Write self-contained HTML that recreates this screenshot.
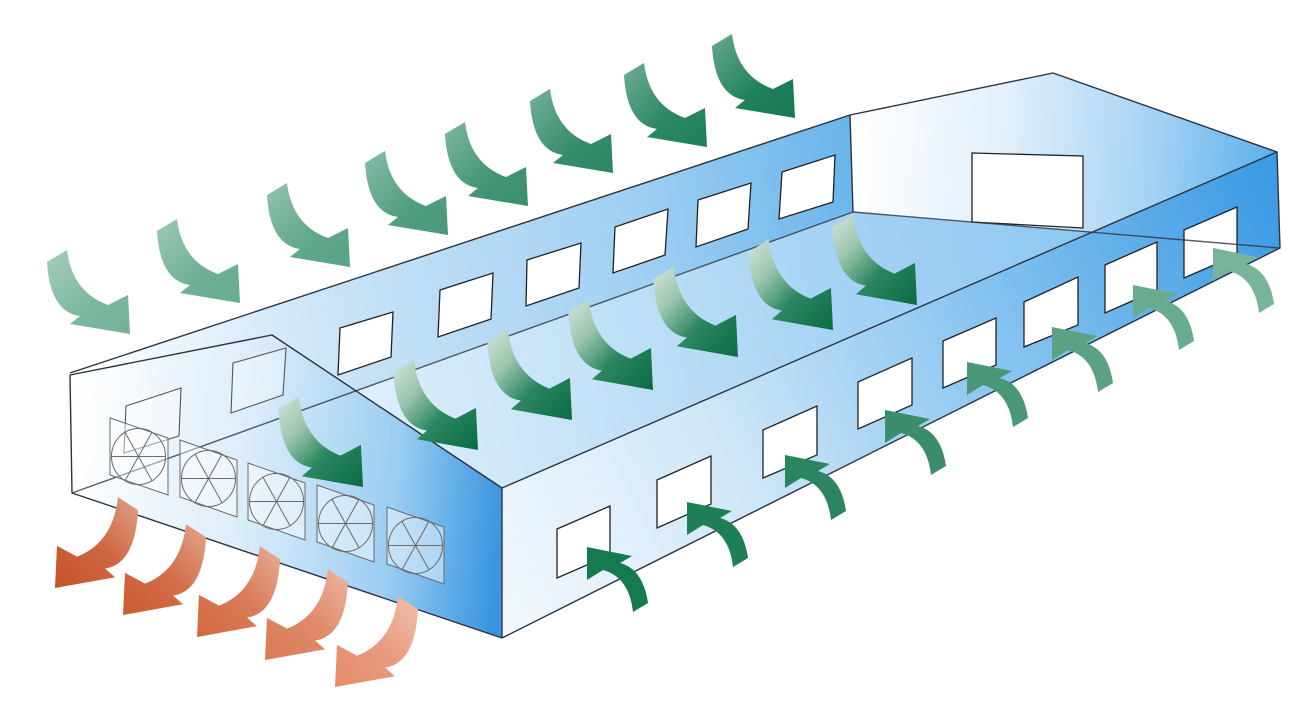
<!DOCTYPE html>
<html><head><meta charset="utf-8"><style>
html,body{margin:0;padding:0;background:#fff;}
svg{display:block;}
</style></head><body>
<svg width="1294" height="714" viewBox="0 0 1294 714" xmlns="http://www.w3.org/2000/svg">
<defs>
<linearGradient id="gBack" gradientUnits="userSpaceOnUse" x1="70" y1="300" x2="850" y2="160">
<stop offset="0" stop-color="#ffffff"/><stop offset="0.15" stop-color="#e6f2fc"/><stop offset="0.35" stop-color="#c6e2f7"/><stop offset="0.7" stop-color="#a3d1f3"/><stop offset="1" stop-color="#6bb5eb"/>
</linearGradient>
<linearGradient id="gRight" gradientUnits="userSpaceOnUse" x1="852" y1="150" x2="1277" y2="180">
<stop offset="0" stop-color="#ffffff"/><stop offset="0.35" stop-color="#e2f0fb"/><stop offset="0.7" stop-color="#a6d3f4"/><stop offset="1" stop-color="#5aaeeb"/>
</linearGradient>
<linearGradient id="gFloor" gradientUnits="userSpaceOnUse" x1="72" y1="480" x2="1279" y2="240">
<stop offset="0" stop-color="#ffffff"/><stop offset="0.3" stop-color="#d6ebfa"/><stop offset="0.65" stop-color="#a5d2f4"/><stop offset="1" stop-color="#7cbfef"/>
</linearGradient>
<linearGradient id="gEnd" gradientUnits="userSpaceOnUse" x1="70" y1="480" x2="502" y2="520">
<stop offset="0" stop-color="#ffffff"/><stop offset="0.4" stop-color="#dcedfa"/><stop offset="0.75" stop-color="#9acdf2"/><stop offset="1" stop-color="#3895e0"/>
</linearGradient>
<linearGradient id="gFront" gradientUnits="userSpaceOnUse" x1="502" y1="600" x2="1280" y2="200">
<stop offset="0" stop-color="#f2f8fd"/><stop offset="0.3" stop-color="#d0e7f8"/><stop offset="0.6" stop-color="#8fc8f1"/><stop offset="1" stop-color="#3c9be4"/>
</linearGradient>
<linearGradient id="fadeTail" x1="0" y1="0" x2="1" y2="1">
<stop offset="0" stop-color="#ffffff" stop-opacity="0.35"/><stop offset="0.6" stop-color="#ffffff" stop-opacity="0.05"/><stop offset="1" stop-color="#ffffff" stop-opacity="0"/>
</linearGradient>
<linearGradient id="fadeEx" x1="0" y1="0" x2="1" y2="1">
<stop offset="0" stop-color="#ffffff" stop-opacity="0.45"/><stop offset="0.5" stop-color="#ffffff" stop-opacity="0.12"/><stop offset="1" stop-color="#ffffff" stop-opacity="0"/>
</linearGradient>
<linearGradient id="gInt" x1="0" y1="0" x2="1" y2="1">
<stop offset="0" stop-color="#d3e6da"/><stop offset="0.3" stop-color="#9cc5ae"/><stop offset="0.6" stop-color="#2a8660"/><stop offset="1" stop-color="#0a6b43"/>
</linearGradient>
</defs>

<!-- back wall -->
<polygon points="70,373 850,115 853,212 72,493" fill="url(#gBack)"/>
<!-- right end wall -->
<polygon points="850,115 1053,73 1277,152 1279,248 853,212" fill="url(#gRight)"/>
<!-- floor -->
<polygon points="72,493 853,212 1279,248 502,638" fill="url(#gFloor)"/>
<!-- left end wall -->
<polygon points="70,375 272,335 502,488 502,638 72,493" fill="url(#gEnd)"/>
<!-- front wall -->
<polygon points="502,488 1277,152 1280,248 502,638" fill="url(#gFront)"/>

<!-- back wall windows -->
<g fill="#ffffff" stroke="#222" stroke-width="1.3">
<polygon points="340,328 393,312 391,357 338,375"/>
<polygon points="440,290 493,273 491,319 438,337"/>
<polygon points="527,260 581,243 579,288 526,306"/>
<polygon points="615,227 668,209 665,255 613,273"/>
<polygon points="698,200 751,183 748,229 696,247"/>
<polygon points="782,172 835,155 833,202 779,219"/>
<!-- door -->
<polygon points="972,153 1083,156 1083,228 972,222"/>
<!-- front windows -->
<polygon points="557,529 610,506 610,555 557,578"/>
<polygon points="657,480 711,456 711,504 657,528"/>
<polygon points="763,430 817,406 817,455 763,478"/>
<polygon points="858,382 912,358 912,405 858,429"/>
<polygon points="943,341 996,318 996,365 943,388"/>
<polygon points="1024,302 1078,277 1078,325 1024,347"/>
<polygon points="1105,265 1157,242 1157,290 1105,313"/>
<polygon points="1184,230 1237,207 1237,255 1184,278"/>
</g>

<!-- end wall windows (translucent) -->
<g fill="#ffffff" fill-opacity="0.3" stroke="#555" stroke-width="1.1">
<polygon points="126,406 181,388 179,436 124,453"/>
<polygon points="233,363 286,348 283,395 231,413"/>
</g>

<!-- outlines -->
<g fill="none" stroke="#2a3440" stroke-width="1.4" stroke-linejoin="round">
<polyline points="70,373 850,115"/>
<polyline points="70,375 272,335 502,488"/>
<polyline points="70,375 72,493 502,638"/>
<polyline points="502,488 502,638"/>
<polyline points="502,488 1277,152 1280,248 502,638"/>
<polyline points="850,115 853,212"/>
<polyline points="850,115 1053,73 1277,152"/>
<polyline points="853,212 1279,248" stroke-opacity="0.8"/>
<polyline points="72,493 853,212" stroke-opacity="0.8"/>
</g>

<!-- fans -->
<g stroke="#6a6a6a" stroke-width="1" fill="none">
<polygon points="110,418 168,438 168,495 110,475" fill="#ffffff" fill-opacity="0.45"/>
<ellipse cx="138.5" cy="456.5" rx="27" ry="28"/>
<line x1="111.5" y1="456.5" x2="165.5" y2="456.5"/><line x1="152" y1="432.3" x2="125" y2="480.7"/><line x1="125" y1="432.3" x2="152" y2="480.7"/>

<polygon points="180,440 237,460 237,517 180,497" fill="#ffffff" fill-opacity="0.45"/>
<ellipse cx="208.5" cy="478.5" rx="27" ry="28"/>
<line x1="181.5" y1="478.5" x2="235.5" y2="478.5"/><line x1="222" y1="454.3" x2="195" y2="502.7"/><line x1="195" y1="454.3" x2="222" y2="502.7"/>

<polygon points="248,463 305,483 305,540 248,520" fill="#ffffff" fill-opacity="0.45"/>
<ellipse cx="276.5" cy="501.5" rx="27" ry="28"/>
<line x1="249.5" y1="501.5" x2="303.5" y2="501.5"/><line x1="290" y1="477.3" x2="263" y2="525.7"/><line x1="263" y1="477.3" x2="290" y2="525.7"/>

<polygon points="317,485 374,505 374,562 317,542" fill="#ffffff" fill-opacity="0.45"/>
<ellipse cx="345.5" cy="523.5" rx="27" ry="28"/>
<line x1="318.5" y1="523.5" x2="372.5" y2="523.5"/><line x1="359" y1="499.3" x2="332" y2="547.7"/><line x1="332" y1="499.3" x2="359" y2="547.7"/>

<polygon points="387,507 444,527 444,584 387,564" fill="#ffffff" fill-opacity="0.45"/>
<ellipse cx="415.5" cy="545.5" rx="27" ry="28"/>
<line x1="388.5" y1="545.5" x2="442.5" y2="545.5"/><line x1="429" y1="521.3" x2="402" y2="569.7"/><line x1="402" y1="521.3" x2="429" y2="569.7"/>
</g>

<!-- interior arrows -->
<g fill="url(#gInt)">
<path transform="translate(363,487) scale(1.02,1.08)" d="M-83,-72 L-63,-84 Q-58,-42 -22,-29 L-2,-39 L0,0 L-60,-10 L-50,-18 Q-80,-22 -83,-72Z"/>
<path transform="translate(478,450) scale(1.02,1.08)" d="M-83,-72 L-63,-84 Q-58,-42 -22,-29 L-2,-39 L0,0 L-60,-10 L-50,-18 Q-80,-22 -83,-72Z"/>
<path transform="translate(572,420) scale(1.02,1.08)" d="M-83,-72 L-63,-84 Q-58,-42 -22,-29 L-2,-39 L0,0 L-60,-10 L-50,-18 Q-80,-22 -83,-72Z"/>
<path transform="translate(653,390) scale(1.02,1.08)" d="M-83,-72 L-63,-84 Q-58,-42 -22,-29 L-2,-39 L0,0 L-60,-10 L-50,-18 Q-80,-22 -83,-72Z"/>
<path transform="translate(738,357) scale(1.02,1.08)" d="M-83,-72 L-63,-84 Q-58,-42 -22,-29 L-2,-39 L0,0 L-60,-10 L-50,-18 Q-80,-22 -83,-72Z"/>
<path transform="translate(833,330) scale(1.02,1.08)" d="M-83,-72 L-63,-84 Q-58,-42 -22,-29 L-2,-39 L0,0 L-60,-10 L-50,-18 Q-80,-22 -83,-72Z"/>
<path transform="translate(917,305) scale(1.02,1.08)" d="M-83,-72 L-63,-84 Q-58,-42 -22,-29 L-2,-39 L0,0 L-60,-10 L-50,-18 Q-80,-22 -83,-72Z"/>
</g>

<!-- top arrows -->
<g>
<g transform="translate(130,334)"><path fill="#74b399" d="M-83,-72 L-63,-84 Q-58,-42 -22,-29 L-2,-39 L0,0 L-60,-10 L-50,-18 Q-80,-22 -83,-72Z"/><path fill="url(#fadeTail)" d="M-83,-72 L-63,-84 Q-58,-42 -22,-29 L-2,-39 L0,0 L-60,-10 L-50,-18 Q-80,-22 -83,-72Z"/></g>
<g transform="translate(240,303)"><path fill="#67ac90" d="M-83,-72 L-63,-84 Q-58,-42 -22,-29 L-2,-39 L0,0 L-60,-10 L-50,-18 Q-80,-22 -83,-72Z"/><path fill="url(#fadeTail)" d="M-83,-72 L-63,-84 Q-58,-42 -22,-29 L-2,-39 L0,0 L-60,-10 L-50,-18 Q-80,-22 -83,-72Z"/></g>
<g transform="translate(350,267)"><path fill="#58a385" d="M-83,-72 L-63,-84 Q-58,-42 -22,-29 L-2,-39 L0,0 L-60,-10 L-50,-18 Q-80,-22 -83,-72Z"/><path fill="url(#fadeTail)" d="M-83,-72 L-63,-84 Q-58,-42 -22,-29 L-2,-39 L0,0 L-60,-10 L-50,-18 Q-80,-22 -83,-72Z"/></g>
<g transform="translate(448,235)"><path fill="#48997a" d="M-83,-72 L-63,-84 Q-58,-42 -22,-29 L-2,-39 L0,0 L-60,-10 L-50,-18 Q-80,-22 -83,-72Z"/><path fill="url(#fadeTail)" d="M-83,-72 L-63,-84 Q-58,-42 -22,-29 L-2,-39 L0,0 L-60,-10 L-50,-18 Q-80,-22 -83,-72Z"/></g>
<g transform="translate(528,206)"><path fill="#39906e" d="M-83,-72 L-63,-84 Q-58,-42 -22,-29 L-2,-39 L0,0 L-60,-10 L-50,-18 Q-80,-22 -83,-72Z"/><path fill="url(#fadeTail)" d="M-83,-72 L-63,-84 Q-58,-42 -22,-29 L-2,-39 L0,0 L-60,-10 L-50,-18 Q-80,-22 -83,-72Z"/></g>
<g transform="translate(613,173)"><path fill="#2b8764" d="M-83,-72 L-63,-84 Q-58,-42 -22,-29 L-2,-39 L0,0 L-60,-10 L-50,-18 Q-80,-22 -83,-72Z"/><path fill="url(#fadeTail)" d="M-83,-72 L-63,-84 Q-58,-42 -22,-29 L-2,-39 L0,0 L-60,-10 L-50,-18 Q-80,-22 -83,-72Z"/></g>
<g transform="translate(707,147)"><path fill="#1f805b" d="M-83,-72 L-63,-84 Q-58,-42 -22,-29 L-2,-39 L0,0 L-60,-10 L-50,-18 Q-80,-22 -83,-72Z"/><path fill="url(#fadeTail)" d="M-83,-72 L-63,-84 Q-58,-42 -22,-29 L-2,-39 L0,0 L-60,-10 L-50,-18 Q-80,-22 -83,-72Z"/></g>
<g transform="translate(795,118)"><path fill="#157a53" d="M-83,-72 L-63,-84 Q-58,-42 -22,-29 L-2,-39 L0,0 L-60,-10 L-50,-18 Q-80,-22 -83,-72Z"/><path fill="url(#fadeTail)" d="M-83,-72 L-63,-84 Q-58,-42 -22,-29 L-2,-39 L0,0 L-60,-10 L-50,-18 Q-80,-22 -83,-72Z"/></g>
</g>

<!-- inlet arrows -->
<g>
<path fill="#167a50" transform="translate(587,547)" d="M0,0 L45,9 L33,16 Q56,22 61,56 L46,65 Q42,30 16,23 L0,33Z"/>
<path fill="#1e7e56" transform="translate(687,502)" d="M0,0 L45,9 L33,16 Q56,22 61,56 L46,65 Q42,30 16,23 L0,33Z"/>
<path fill="#2b8561" transform="translate(785,455)" d="M0,0 L45,9 L33,16 Q56,22 61,56 L46,65 Q42,30 16,23 L0,33Z"/>
<path fill="#3a8e6b" transform="translate(885,410)" d="M0,0 L45,9 L33,16 Q56,22 61,56 L46,65 Q42,30 16,23 L0,33Z"/>
<path fill="#4a9777" transform="translate(967,362)" d="M0,0 L45,9 L33,16 Q56,22 61,56 L46,65 Q42,30 16,23 L0,33Z"/>
<path fill="#5aa283" transform="translate(1052,327)" d="M0,0 L45,9 L33,16 Q56,22 61,56 L46,65 Q42,30 16,23 L0,33Z"/>
<path fill="#69ab8e" transform="translate(1133,285)" d="M0,0 L45,9 L33,16 Q56,22 61,56 L46,65 Q42,30 16,23 L0,33Z"/>
<path fill="#77b49a" transform="translate(1213,248)" d="M0,0 L45,9 L33,16 Q56,22 61,56 L46,65 Q42,30 16,23 L0,33Z"/>
</g>

<!-- exhaust arrows -->
<g>
<g transform="translate(55,588) scale(-1,1.08)"><path fill="#c75227" d="M-83,-72 L-63,-84 Q-58,-42 -22,-29 L-2,-39 L0,0 L-60,-10 L-50,-18 Q-80,-22 -83,-72Z"/><path fill="url(#fadeEx)" d="M-83,-72 L-63,-84 Q-58,-42 -22,-29 L-2,-39 L0,0 L-60,-10 L-50,-18 Q-80,-22 -83,-72Z"/></g>
<g transform="translate(123,615) scale(-1,1.08)"><path fill="#cc5a30" d="M-83,-72 L-63,-84 Q-58,-42 -22,-29 L-2,-39 L0,0 L-60,-10 L-50,-18 Q-80,-22 -83,-72Z"/><path fill="url(#fadeEx)" d="M-83,-72 L-63,-84 Q-58,-42 -22,-29 L-2,-39 L0,0 L-60,-10 L-50,-18 Q-80,-22 -83,-72Z"/></g>
<g transform="translate(197,637) scale(-1,1.08)"><path fill="#d46941" d="M-83,-72 L-63,-84 Q-58,-42 -22,-29 L-2,-39 L0,0 L-60,-10 L-50,-18 Q-80,-22 -83,-72Z"/><path fill="url(#fadeEx)" d="M-83,-72 L-63,-84 Q-58,-42 -22,-29 L-2,-39 L0,0 L-60,-10 L-50,-18 Q-80,-22 -83,-72Z"/></g>
<g transform="translate(265,660) scale(-1,1.08)"><path fill="#dc7a55" d="M-83,-72 L-63,-84 Q-58,-42 -22,-29 L-2,-39 L0,0 L-60,-10 L-50,-18 Q-80,-22 -83,-72Z"/><path fill="url(#fadeEx)" d="M-83,-72 L-63,-84 Q-58,-42 -22,-29 L-2,-39 L0,0 L-60,-10 L-50,-18 Q-80,-22 -83,-72Z"/></g>
<g transform="translate(335,687) scale(-1,1.08)"><path fill="#e58d6c" d="M-83,-72 L-63,-84 Q-58,-42 -22,-29 L-2,-39 L0,0 L-60,-10 L-50,-18 Q-80,-22 -83,-72Z"/><path fill="url(#fadeEx)" d="M-83,-72 L-63,-84 Q-58,-42 -22,-29 L-2,-39 L0,0 L-60,-10 L-50,-18 Q-80,-22 -83,-72Z"/></g>
</g>
</svg>
</body></html>
